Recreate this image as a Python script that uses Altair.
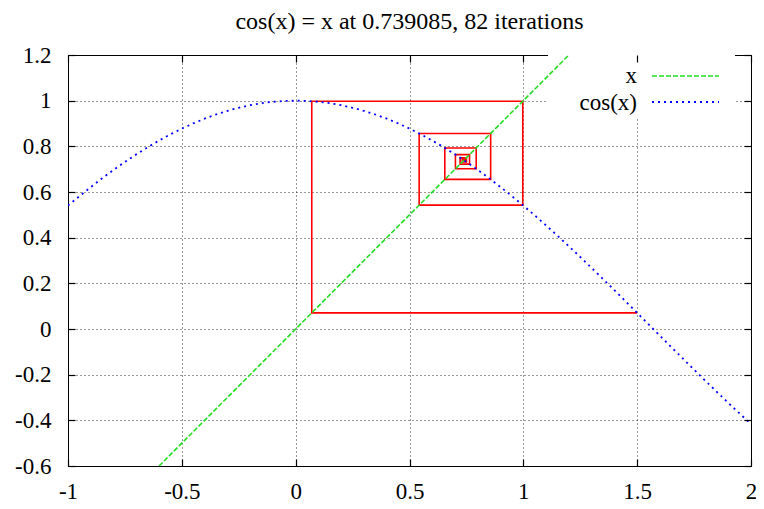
import altair as alt
import pandas as pd

# ---- data ----
TITLE = "cos(x) = x at 0.739085, 82 iterations"
X_TICKS = [-1, -0.5, 0, 0.5, 1, 1.5, 2]
Y_TICKS = [-0.6, -0.4, -0.2, 0, 0.2, 0.4, 0.6, 0.8, 1, 1.2]

COS_X = [-1.0, -0.95, -0.9, -0.85, -0.8, -0.75, -0.7, -0.65, -0.6, -0.55, -0.5,
         -0.45, -0.4, -0.35, -0.3, -0.25, -0.2, -0.15, -0.1, -0.05, 0.0,
         0.05, 0.1, 0.15, 0.2, 0.25, 0.3, 0.35, 0.4, 0.45, 0.5,
         0.55, 0.6, 0.65, 0.7, 0.75, 0.8, 0.85, 0.9, 0.95, 1.0,
         1.05, 1.1, 1.15, 1.2, 1.25, 1.3, 1.35, 1.4, 1.45, 1.5,
         1.55, 1.6, 1.65, 1.7, 1.75, 1.8, 1.85, 1.9, 1.95, 2.0]
COS_Y = [0.5403, 0.5817, 0.6216, 0.6600, 0.6967, 0.7317, 0.7648, 0.7961, 0.8253, 0.8525, 0.8776,
         0.9004, 0.9211, 0.9394, 0.9553, 0.9689, 0.9801, 0.9888, 0.9950, 0.9988, 1.0000,
         0.9988, 0.9950, 0.9888, 0.9801, 0.9689, 0.9553, 0.9394, 0.9211, 0.9004, 0.8776,
         0.8525, 0.8253, 0.7961, 0.7648, 0.7317, 0.6967, 0.6600, 0.6216, 0.5817, 0.5403,
         0.4976, 0.4536, 0.4085, 0.3624, 0.3153, 0.2675, 0.2190, 0.1700, 0.1205, 0.0707,
         0.0208, -0.0292, -0.0792, -0.1288, -0.1782, -0.2272, -0.2756, -0.3233, -0.3702, -0.4161]

LINE_X = [-0.6, 1.2]
LINE_Y = [-0.6, 1.2]

# fixed-point iterates x_{n+1} = cos(x_n), starting at 1.5
ITERATES = [1.5, 0.070737, 0.997499, 0.542405, 0.856470, 0.655108, 0.792983,
            0.701724, 0.763730, 0.722261, 0.750312, 0.731476, 0.744189, 0.735638,
            0.741404, 0.737521, 0.740138, 0.738375, 0.739563, 0.738763, 0.739302,
            0.738939]

LEGEND_LABELS = ["x", "cos(x)"]

# ---- build tables ----
cos_df = pd.DataFrame({"x": COS_X, "y": COS_Y, "i": range(len(COS_X))})
line_df = pd.DataFrame({"x": LINE_X, "y": LINE_Y, "i": range(len(LINE_X))})

px, py = [ITERATES[0]], [ITERATES[1]]
for k in range(1, len(ITERATES)):
    px.append(ITERATES[k]); py.append(ITERATES[k])
    if k + 1 < len(ITERATES):
        px.append(ITERATES[k]); py.append(ITERATES[k + 1])
web_df = pd.DataFrame({"x": px, "y": py, "i": range(len(px))})

FONT = "'Liberation Serif', 'Times New Roman', Times, serif"
FS_TICK = 23
FS_TEXT = 24
FS_KEY = 23
XD = [-1, 2]
YD = [-0.6, 1.2]
W, H = 683, 411

def xs():
    return alt.Scale(domain=XD, nice=False, zero=False)

def ys():
    return alt.Scale(domain=YD, nice=False, zero=False)

main_x_axis = alt.Axis(values=X_TICKS, grid=True, gridDash=[1, 3], gridColor="#000",
                       gridOpacity=0.8,
                       tickSize=7, offset=-7, tickColor="black", tickWidth=1.2, domain=False,
                       labelFont=FONT, labelFontSize=FS_TICK, labelColor="black",
                       labelPadding=14, labelExpr="'' + datum.value", title=None,
                       labelFlush=False, labelOverlap=False, orient="bottom")
main_y_axis = alt.Axis(values=Y_TICKS, grid=True, gridDash=[1, 3], gridColor="#000",
                       gridOpacity=0.8,
                       tickSize=7, offset=-7, tickColor="black", tickWidth=1.2, domain=False,
                       labelFont=FONT, labelFontSize=FS_TICK, labelColor="black",
                       labelPadding=17, labelExpr="'' + datum.value", title=None,
                       labelFlush=False, labelOverlap=False, orient="left")
mirror_x_axis = alt.Axis(values=X_TICKS, grid=False, tickSize=7, offset=-7,
                         tickColor="black", tickWidth=1.2, domain=False, labels=False,
                         title=None, orient="top", zindex=1)
mirror_y_axis = alt.Axis(values=Y_TICKS, grid=False, tickSize=7, offset=-7,
                         tickColor="black", tickWidth=1.2, domain=False, labels=False,
                         title=None, orient="right", zindex=1)

one = pd.DataFrame({"a": [0]})

# key background (opaque box)
key_box = alt.Chart(one).mark_rect(color="white").encode(
    x=alt.value(480), x2=alt.value(667), y=alt.value(0), y2=alt.value(62))

web = alt.Chart(web_df).mark_line(color="#ff0000", strokeWidth=1.6, clip=True).encode(
    x=alt.X("x:Q", scale=xs(), axis=main_x_axis),
    y=alt.Y("y:Q", scale=ys(), axis=main_y_axis),
    order="i:Q")

xline = alt.Chart(line_df).mark_line(color="#22dd22", strokeWidth=1.6,
                                     strokeDash=[5, 2], clip=True).encode(
    x=alt.X("x:Q", scale=xs(), axis=mirror_x_axis),
    y=alt.Y("y:Q", scale=ys(), axis=mirror_y_axis),
    order="i:Q")

cosline = alt.Chart(cos_df).mark_line(color="#0000ff", strokeWidth=1.8,
                                      strokeDash=[2, 4], clip=True).encode(
    x=alt.X("x:Q", scale=xs(), axis=None),
    y=alt.Y("y:Q", scale=ys(), axis=None),
    order="i:Q")

leg_t1 = alt.Chart(one).mark_text(font=FONT, fontSize=FS_KEY, align="right",
                                  baseline="alphabetic", color="black").encode(
    x=alt.value(569), y=alt.value(28), text=alt.value(LEGEND_LABELS[0]))
leg_t2 = alt.Chart(one).mark_text(font=FONT, fontSize=FS_KEY, align="right",
                                  baseline="alphabetic", color="black").encode(
    x=alt.value(569), y=alt.value(55), text=alt.value(LEGEND_LABELS[1]))
leg_l1 = alt.Chart(one).mark_rule(color="#22dd22", strokeWidth=1.6,
                                  strokeDash=[5, 2]).encode(
    x=alt.value(584), x2=alt.value(651), y=alt.value(21))
leg_l2 = alt.Chart(one).mark_rule(color="#0000ff", strokeWidth=1.8,
                                  strokeDash=[2, 4]).encode(
    x=alt.value(584), x2=alt.value(651), y=alt.value(47))

chart = alt.layer(key_box, web, xline, cosline, leg_t1, leg_t2, leg_l1, leg_l2).resolve_scale(
    x="independent", y="independent"
).properties(
    width=W, height=H,
    padding={"left": 60, "top": 47, "right": 5, "bottom": 40},
    autosize=alt.AutoSizeParams(type="none"),
    title=alt.TitleParams(TITLE, font=FONT, fontSize=FS_TEXT, fontWeight="normal",
                          color="black", anchor="middle", offset=10),
).configure_view(stroke="black", strokeWidth=1)

chart.save("out.html", embed_options={"renderer": "svg", "actions": False})
